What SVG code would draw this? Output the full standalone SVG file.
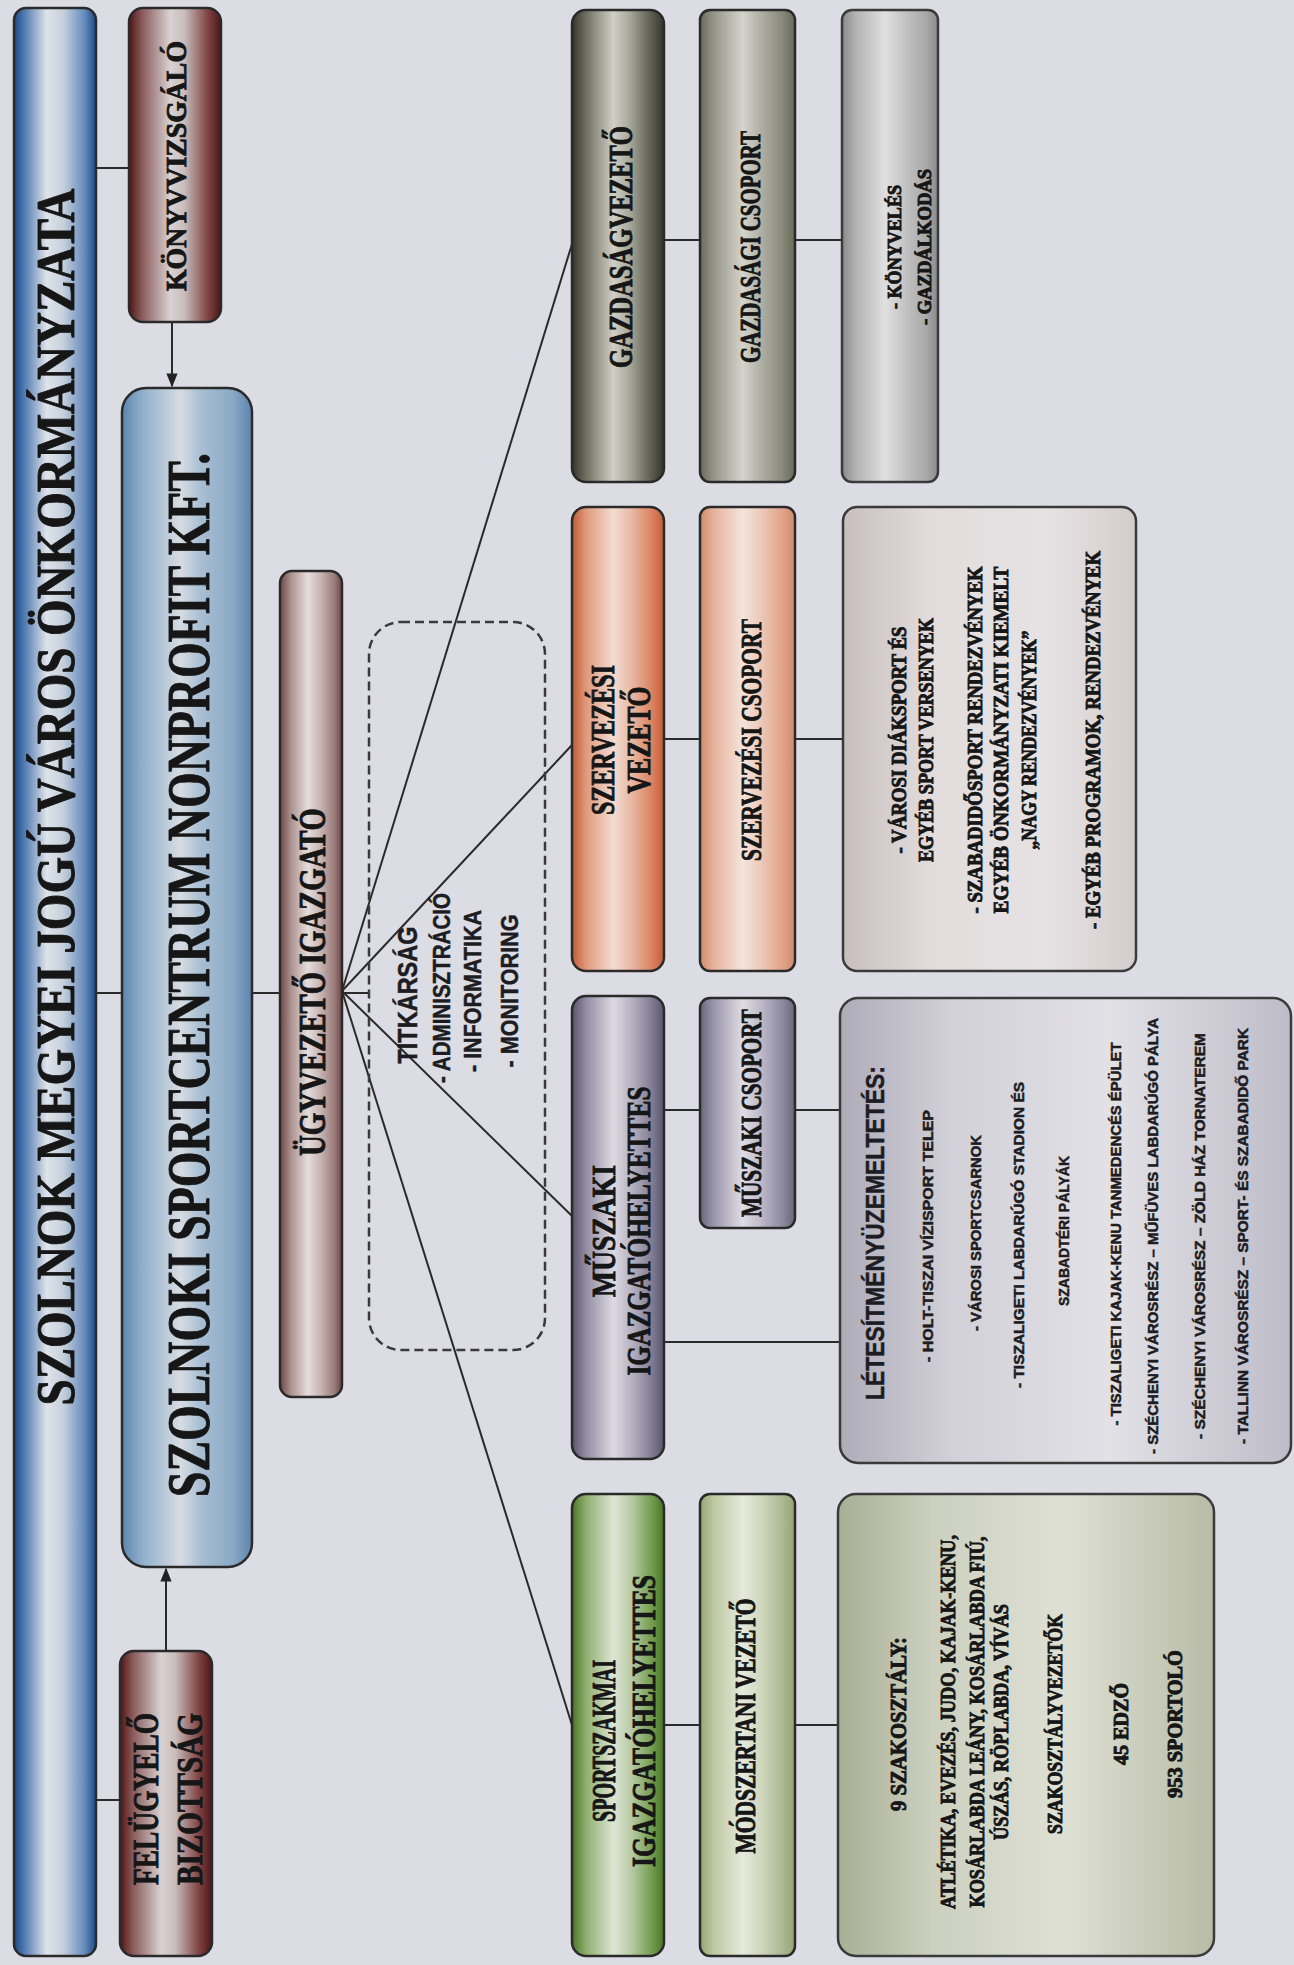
<svg xmlns="http://www.w3.org/2000/svg" width="1294" height="1965" viewBox="0 0 1294 1965">
<defs>
<linearGradient id="gBlue" x1="0" x2="1" y1="0" y2="0"><stop offset="0" stop-color="#1d4a88"/><stop offset="0.12" stop-color="#4d78b0"/><stop offset="0.4" stop-color="#dfe3ea"/><stop offset="0.6" stop-color="#c6d0dc"/><stop offset="0.85" stop-color="#6a8fbf"/><stop offset="1" stop-color="#1d4a88"/></linearGradient>
<linearGradient id="gKft" x1="0" x2="1" y1="0" y2="0"><stop offset="0" stop-color="#5d84ad"/><stop offset="0.15" stop-color="#8eaecb"/><stop offset="0.45" stop-color="#d7dce2"/><stop offset="0.6" stop-color="#a9bfd3"/><stop offset="0.85" stop-color="#8aa9c6"/><stop offset="1" stop-color="#5d84ad"/></linearGradient>
<linearGradient id="gMaroon" x1="0" x2="1" y1="0" y2="0"><stop offset="0" stop-color="#4e1515"/><stop offset="0.14" stop-color="#8a5a5a"/><stop offset="0.45" stop-color="#d8d2d2"/><stop offset="0.6" stop-color="#c9bdbd"/><stop offset="0.86" stop-color="#7e4242"/><stop offset="1" stop-color="#4e1515"/></linearGradient>
<linearGradient id="gUgy" x1="0" x2="1" y1="0" y2="0"><stop offset="0" stop-color="#6a4644"/><stop offset="0.18" stop-color="#ad9391"/><stop offset="0.45" stop-color="#e3dddc"/><stop offset="0.65" stop-color="#c9b5b3"/><stop offset="0.88" stop-color="#9a7b79"/><stop offset="1" stop-color="#6a4644"/></linearGradient>
<linearGradient id="gGazd" x1="0" x2="1" y1="0" y2="0"><stop offset="0" stop-color="#34342a"/><stop offset="0.15" stop-color="#6f6f60"/><stop offset="0.45" stop-color="#cfcfc6"/><stop offset="0.62" stop-color="#a9a99c"/><stop offset="0.86" stop-color="#5e5e50"/><stop offset="1" stop-color="#34342a"/></linearGradient>
<linearGradient id="gGazdC" x1="0" x2="1" y1="0" y2="0"><stop offset="0" stop-color="#6a6a5a"/><stop offset="0.15" stop-color="#96968a"/><stop offset="0.45" stop-color="#d4d4cc"/><stop offset="0.62" stop-color="#b3b3a8"/><stop offset="0.86" stop-color="#8a8a7c"/><stop offset="1" stop-color="#6a6a5a"/></linearGradient>
<linearGradient id="gGazdL" x1="0" x2="1" y1="0" y2="0"><stop offset="0" stop-color="#8a8a8a"/><stop offset="0.15" stop-color="#b4b4b4"/><stop offset="0.45" stop-color="#e0e0e0"/><stop offset="0.65" stop-color="#c4c4c4"/><stop offset="0.88" stop-color="#a8a8a8"/><stop offset="1" stop-color="#8a8a8a"/></linearGradient>
<linearGradient id="gSzerv" x1="0" x2="1" y1="0" y2="0"><stop offset="0" stop-color="#c25a34"/><stop offset="0.15" stop-color="#e0987a"/><stop offset="0.45" stop-color="#f2dcd2"/><stop offset="0.65" stop-color="#e8b8a2"/><stop offset="0.88" stop-color="#d9805e"/><stop offset="1" stop-color="#c25a34"/></linearGradient>
<linearGradient id="gSzervC" x1="0" x2="1" y1="0" y2="0"><stop offset="0" stop-color="#cf8a6c"/><stop offset="0.15" stop-color="#e6b49c"/><stop offset="0.45" stop-color="#f4e4dc"/><stop offset="0.65" stop-color="#ecc8b6"/><stop offset="0.88" stop-color="#e0a286"/><stop offset="1" stop-color="#cf8a6c"/></linearGradient>
<linearGradient id="gSzervL" x1="0" x2="1" y1="0" y2="0"><stop offset="0" stop-color="#c9bebe"/><stop offset="0.3" stop-color="#e2dcdc"/><stop offset="0.7" stop-color="#e6e2e4"/><stop offset="1" stop-color="#d4cccc"/></linearGradient>
<linearGradient id="gMusz" x1="0" x2="1" y1="0" y2="0"><stop offset="0" stop-color="#58546a"/><stop offset="0.15" stop-color="#918ca2"/><stop offset="0.45" stop-color="#dcdae2"/><stop offset="0.65" stop-color="#b6b2c2"/><stop offset="0.88" stop-color="#7e7990"/><stop offset="1" stop-color="#58546a"/></linearGradient>
<linearGradient id="gMuszC" x1="0" x2="1" y1="0" y2="0"><stop offset="0" stop-color="#68647a"/><stop offset="0.15" stop-color="#9c98ac"/><stop offset="0.45" stop-color="#dedce4"/><stop offset="0.65" stop-color="#bcb8c8"/><stop offset="0.88" stop-color="#8a869c"/><stop offset="1" stop-color="#68647a"/></linearGradient>
<linearGradient id="gMuszL" x1="0" x2="1" y1="0" y2="0"><stop offset="0" stop-color="#aeacb8"/><stop offset="0.25" stop-color="#d2d0d8"/><stop offset="0.6" stop-color="#e2e1e6"/><stop offset="1" stop-color="#bebcc8"/></linearGradient>
<linearGradient id="gSport" x1="0" x2="1" y1="0" y2="0"><stop offset="0" stop-color="#487626"/><stop offset="0.15" stop-color="#8eae6e"/><stop offset="0.45" stop-color="#dde5d4"/><stop offset="0.65" stop-color="#b7c9a4"/><stop offset="0.88" stop-color="#6f9a4a"/><stop offset="1" stop-color="#487626"/></linearGradient>
<linearGradient id="gModsz" x1="0" x2="1" y1="0" y2="0"><stop offset="0" stop-color="#96a474"/><stop offset="0.15" stop-color="#bec8a2"/><stop offset="0.45" stop-color="#e6e9dc"/><stop offset="0.65" stop-color="#cfd6bc"/><stop offset="0.88" stop-color="#aab690"/><stop offset="1" stop-color="#96a474"/></linearGradient>
<linearGradient id="gSportL" x1="0" x2="1" y1="0" y2="0"><stop offset="0" stop-color="#a9ae96"/><stop offset="0.25" stop-color="#ccd0bf"/><stop offset="0.6" stop-color="#dee0d4"/><stop offset="1" stop-color="#b8bca6"/></linearGradient>
<marker id="arr" viewBox="0 0 10 10" refX="9" refY="5" markerWidth="7" markerHeight="7" orient="auto-start-reverse"><path d="M0,1 L10,5 L0,9 z" fill="#222"/></marker>
</defs>
<style>
.box{stroke:#2a2a2a;stroke-width:2.5}
.lst{stroke:#3a3a3a;stroke-width:2.5}
.h{font-family:'Liberation Serif',serif;font-weight:bold;fill:#161616;stroke:#161616;stroke-width:0.9}
.s{font-family:'Liberation Sans',sans-serif;font-weight:bold;fill:#1c1c22;stroke:#1c1c22;stroke-width:0.5}
.ln{stroke:#2a2a2a;stroke-width:2;fill:none}
</style>
<rect width="1294" height="1965" fill="#dcdce4"/>

<g id="connectors">
<line class="ln" x1="96" y1="168" x2="129" y2="168"/>
<line class="ln" x1="96" y1="993" x2="122" y2="993"/>
<line class="ln" x1="252" y1="993" x2="280" y2="993"/>
<line class="ln" x1="96" y1="1800" x2="120" y2="1800"/>
<line class="ln" x1="172" y1="322" x2="172" y2="386" marker-end="url(#arr)"/>
<line class="ln" x1="166" y1="1651" x2="166" y2="1569" marker-end="url(#arr)"/>
<line class="ln" x1="342" y1="993" x2="369" y2="993"/>
<line class="ln" x1="342" y1="991" x2="572" y2="244"/>
<line class="ln" x1="342" y1="991" x2="572" y2="745"/>
<line class="ln" x1="342" y1="991" x2="572" y2="1216"/>
<line class="ln" x1="342" y1="991" x2="572" y2="1725"/>
<line class="ln" x1="664" y1="240" x2="700" y2="240"/>
<line class="ln" x1="795" y1="240" x2="842" y2="240"/>
<line class="ln" x1="664" y1="739" x2="700" y2="739"/>
<line class="ln" x1="795" y1="739" x2="843" y2="739"/>
<line class="ln" x1="664" y1="1110" x2="700" y2="1110"/>
<line class="ln" x1="795" y1="1110" x2="840" y2="1110"/>
<line class="ln" x1="664" y1="1342" x2="840" y2="1342"/>
<line class="ln" x1="664" y1="1725" x2="700" y2="1725"/>
<line class="ln" x1="795" y1="1725" x2="838" y2="1725"/>
</g>

<g id="onkormanyzat">
<rect class="box" x="14" y="8" width="82" height="1948" rx="12" fill="url(#gBlue)"/>
<text class="h" transform="translate(55,797) rotate(-90)" text-anchor="middle" dy="0.35em" font-size="54" textLength="1217" lengthAdjust="spacingAndGlyphs">SZOLNOK MEGYEI JOGÚ VÁROS ÖNKORMÁNYZATA</text>
</g>
<g id="konyvvizsgalo">
<rect class="box" x="129" y="8" width="92" height="314" rx="14" fill="url(#gMaroon)"/>
<text class="h" transform="translate(175,166) rotate(-90)" text-anchor="middle" dy="0.35em" font-size="30" textLength="250" lengthAdjust="spacingAndGlyphs">KÖNYVVIZSGÁLÓ</text>
</g>
<g id="kft">
<rect class="box" x="122" y="388" width="130" height="1179" rx="24" fill="url(#gKft)"/>
<text class="h" transform="translate(187,975) rotate(-90)" text-anchor="middle" dy="0.35em" font-size="62" textLength="1044" lengthAdjust="spacingAndGlyphs">SZOLNOKI SPORTCENTRUM NONPROFIT KFT.</text>
</g>
<g id="felugyelo">
<rect class="box" x="120" y="1651" width="92" height="305" rx="14" fill="url(#gMaroon)"/>
<text class="h" transform="translate(146,1799) rotate(-90)" text-anchor="middle" dy="0.35em" font-size="35" textLength="172" lengthAdjust="spacingAndGlyphs">FELÜGYELŐ</text>
<text class="h" transform="translate(190,1799) rotate(-90)" text-anchor="middle" dy="0.35em" font-size="35" textLength="172" lengthAdjust="spacingAndGlyphs">BIZOTTSÁG</text>
</g>
<g id="ugyvezeto">
<rect class="box" x="280" y="571" width="62" height="826" rx="12" fill="url(#gUgy)"/>
<text class="h" transform="translate(312,982) rotate(-90)" text-anchor="middle" dy="0.35em" font-size="38" textLength="348" lengthAdjust="spacingAndGlyphs">ÜGYVEZETŐ IGAZGATÓ</text>
</g>
<g id="titkarsag">
<rect x="369" y="622" width="176" height="728" rx="32" fill="none" stroke="#3a3a3a" stroke-width="2.5" stroke-dasharray="9 5"/>
<text class="s" transform="translate(408,995) rotate(-90)" text-anchor="middle" dy="0.35em" font-size="27" textLength="137" lengthAdjust="spacingAndGlyphs">TITKÁRSÁG</text>
<text class="s" transform="translate(442,988) rotate(-90)" text-anchor="middle" dy="0.35em" font-size="23" textLength="190" lengthAdjust="spacingAndGlyphs">- ADMINISZTRÁCIÓ</text>
<text class="s" transform="translate(473,991) rotate(-90)" text-anchor="middle" dy="0.35em" font-size="23" textLength="162" lengthAdjust="spacingAndGlyphs">- INFORMATIKA</text>
<text class="s" transform="translate(510,991) rotate(-90)" text-anchor="middle" dy="0.35em" font-size="23" textLength="153" lengthAdjust="spacingAndGlyphs">- MONITORING</text>
</g>

<g id="gazdasagvezeto">
<rect class="box" x="572" y="10" width="92" height="472" rx="14" fill="url(#gGazd)"/>
<text class="h" transform="translate(620,247) rotate(-90)" text-anchor="middle" dy="0.35em" font-size="33" textLength="242" lengthAdjust="spacingAndGlyphs">GAZDASÁGVEZETŐ</text>
</g>
<g id="gazdasagi-csoport">
<rect class="box" x="700" y="10" width="95" height="472" rx="10" fill="url(#gGazdC)"/>
<text class="h" transform="translate(750,247) rotate(-90)" text-anchor="middle" dy="0.35em" font-size="29" textLength="232" lengthAdjust="spacingAndGlyphs">GAZDASÁGI CSOPORT</text>
</g>
<g id="gazdasagi-feladatok">
<rect class="lst" x="842" y="10" width="96" height="472" rx="10" fill="url(#gGazdL)"/>
<text class="h" transform="translate(894,247) rotate(-90)" text-anchor="middle" dy="0.35em" font-size="19" textLength="124" lengthAdjust="spacingAndGlyphs">- KÖNYVELÉS</text>
<text class="h" transform="translate(924,247) rotate(-90)" text-anchor="middle" dy="0.35em" font-size="19" textLength="156" lengthAdjust="spacingAndGlyphs">- GAZDÁLKODÁS</text>
</g>

<g id="szervezesi-vezeto">
<rect class="box" x="572" y="507" width="92" height="464" rx="14" fill="url(#gSzerv)"/>
<text class="h" transform="translate(602,740) rotate(-90)" text-anchor="middle" dy="0.35em" font-size="33" textLength="150" lengthAdjust="spacingAndGlyphs">SZERVEZÉSI</text>
<text class="h" transform="translate(638,740) rotate(-90)" text-anchor="middle" dy="0.35em" font-size="33" textLength="107" lengthAdjust="spacingAndGlyphs">VEZETŐ</text>
</g>
<g id="szervezesi-csoport">
<rect class="box" x="700" y="507" width="95" height="464" rx="10" fill="url(#gSzervC)"/>
<text class="h" transform="translate(751,740) rotate(-90)" text-anchor="middle" dy="0.35em" font-size="29" textLength="242" lengthAdjust="spacingAndGlyphs">SZERVEZÉSI CSOPORT</text>
</g>
<g id="szervezesi-feladatok">
<rect class="lst" x="843" y="507" width="293" height="464" rx="14" fill="url(#gSzervL)"/>
<text class="h" transform="translate(899,740) rotate(-90)" text-anchor="middle" dy="0.35em" font-size="20" textLength="227" lengthAdjust="spacingAndGlyphs">- VÁROSI DIÁKSPORT ÉS</text>
<text class="h" transform="translate(926,740) rotate(-90)" text-anchor="middle" dy="0.35em" font-size="20" textLength="244" lengthAdjust="spacingAndGlyphs">EGYÉB SPORT VERSENYEK</text>
<text class="h" transform="translate(975,740) rotate(-90)" text-anchor="middle" dy="0.35em" font-size="20" textLength="347" lengthAdjust="spacingAndGlyphs">- SZABADIDŐSPORT RENDEZVÉNYEK</text>
<text class="h" transform="translate(1001,740) rotate(-90)" text-anchor="middle" dy="0.35em" font-size="20" textLength="347" lengthAdjust="spacingAndGlyphs">EGYÉB ÖNKORMÁNYZATI KIEMELT</text>
<text class="h" transform="translate(1029,740) rotate(-90)" text-anchor="middle" dy="0.35em" font-size="20" textLength="219" lengthAdjust="spacingAndGlyphs">„NAGY RENDEZVÉNYEK”</text>
<text class="h" transform="translate(1093,740) rotate(-90)" text-anchor="middle" dy="0.35em" font-size="20" textLength="378" lengthAdjust="spacingAndGlyphs">- EGYÉB PROGRAMOK, RENDEZVÉNYEK</text>
</g>

<g id="muszaki-igazgatohelyettes">
<rect class="box" x="572" y="996" width="92" height="463" rx="14" fill="url(#gMusz)"/>
<text class="h" transform="translate(603,1231) rotate(-90)" text-anchor="middle" dy="0.35em" font-size="34" textLength="132" lengthAdjust="spacingAndGlyphs">MŰSZAKI</text>
<text class="h" transform="translate(638,1231) rotate(-90)" text-anchor="middle" dy="0.35em" font-size="34" textLength="289" lengthAdjust="spacingAndGlyphs">IGAZGATÓHELYETTES</text>
</g>
<g id="muszaki-csoport">
<rect class="box" x="700" y="998" width="95" height="230" rx="10" fill="url(#gMuszC)"/>
<text class="h" transform="translate(750,1113) rotate(-90)" text-anchor="middle" dy="0.35em" font-size="30" textLength="208" lengthAdjust="spacingAndGlyphs">MŰSZAKI CSOPORT</text>
</g>
<g id="muszaki-feladatok">
<rect class="lst" x="840" y="998" width="451" height="465" rx="18" fill="url(#gMuszL)"/>
<text class="s" transform="translate(875,1233) rotate(-90)" text-anchor="middle" dy="0.35em" font-size="26" textLength="334" lengthAdjust="spacingAndGlyphs">LÉTESÍTMÉNYÜZEMELTETÉS:</text>
<text class="s" transform="translate(928,1236) rotate(-90)" text-anchor="middle" dy="0.35em" font-size="15" textLength="252" lengthAdjust="spacingAndGlyphs">- HOLT-TISZAI VÍZISPORT TELEP</text>
<text class="s" transform="translate(976,1233) rotate(-90)" text-anchor="middle" dy="0.35em" font-size="15" textLength="196" lengthAdjust="spacingAndGlyphs">- VÁROSI SPORTCSARNOK</text>
<text class="s" transform="translate(1019,1235) rotate(-90)" text-anchor="middle" dy="0.35em" font-size="15" textLength="306" lengthAdjust="spacingAndGlyphs">- TISZALIGETI LABDARÚGÓ STADION ÉS</text>
<text class="s" transform="translate(1064,1231) rotate(-90)" text-anchor="middle" dy="0.35em" font-size="15" textLength="150" lengthAdjust="spacingAndGlyphs">SZABADTÉRI PÁLYÁK</text>
<text class="s" transform="translate(1116,1234) rotate(-90)" text-anchor="middle" dy="0.35em" font-size="15" textLength="383" lengthAdjust="spacingAndGlyphs">- TISZALIGETI KAJAK-KENU TANMEDENCÉS ÉPÜLET</text>
<text class="s" transform="translate(1153,1236) rotate(-90)" text-anchor="middle" dy="0.35em" font-size="15" textLength="436" lengthAdjust="spacingAndGlyphs">- SZÉCHENYI VÁROSRÉSZ – MŰFÜVES LABDARÚGÓ PÁLYA</text>
<text class="s" transform="translate(1200,1236) rotate(-90)" text-anchor="middle" dy="0.35em" font-size="15" textLength="406" lengthAdjust="spacingAndGlyphs">- SZÉCHENYI VÁROSRÉSZ – ZÖLD HÁZ TORNATEREM</text>
<text class="s" transform="translate(1243,1236) rotate(-90)" text-anchor="middle" dy="0.35em" font-size="15" textLength="416" lengthAdjust="spacingAndGlyphs">- TALLINN VÁROSRÉSZ – SPORT- ÉS SZABADIDŐ PARK</text>
</g>

<g id="sportszakmai-igazgatohelyettes">
<rect class="box" x="572" y="1494" width="92" height="462" rx="14" fill="url(#gSport)"/>
<text class="h" transform="translate(603,1741) rotate(-90)" text-anchor="middle" dy="0.35em" font-size="34" textLength="162" lengthAdjust="spacingAndGlyphs">SPORTSZAKMAI</text>
<text class="h" transform="translate(643,1721) rotate(-90)" text-anchor="middle" dy="0.35em" font-size="34" textLength="292" lengthAdjust="spacingAndGlyphs">IGAZGATÓHELYETTES</text>
</g>
<g id="modszertani-vezeto">
<rect class="box" x="700" y="1494" width="95" height="462" rx="10" fill="url(#gModsz)"/>
<text class="h" transform="translate(745,1726) rotate(-90)" text-anchor="middle" dy="0.35em" font-size="29" textLength="255" lengthAdjust="spacingAndGlyphs">MÓDSZERTANI VEZETŐ</text>
</g>
<g id="sport-feladatok">
<rect class="lst" x="838" y="1494" width="376" height="462" rx="18" fill="url(#gSportL)"/>
<text class="h" transform="translate(898,1724) rotate(-90)" text-anchor="middle" dy="0.35em" font-size="23" textLength="174" lengthAdjust="spacingAndGlyphs">9 SZAKOSZTÁLY:</text>
<text class="h" transform="translate(948,1722) rotate(-90)" text-anchor="middle" dy="0.35em" font-size="20" textLength="374" lengthAdjust="spacingAndGlyphs">ATLÉTIKA, EVEZÉS, JUDO, KAJAK-KENU,</text>
<text class="h" transform="translate(977,1722) rotate(-90)" text-anchor="middle" dy="0.35em" font-size="20" textLength="371" lengthAdjust="spacingAndGlyphs">KOSÁRLABDA LEÁNY, KOSÁRLABDA FIÚ,</text>
<text class="h" transform="translate(1001,1722) rotate(-90)" text-anchor="middle" dy="0.35em" font-size="20" textLength="236" lengthAdjust="spacingAndGlyphs">ÚSZÁS, RÖPLABDA, VÍVÁS</text>
<text class="h" transform="translate(1055,1724) rotate(-90)" text-anchor="middle" dy="0.35em" font-size="20" textLength="220" lengthAdjust="spacingAndGlyphs">SZAKOSZTÁLYVEZETŐK</text>
<text class="h" transform="translate(1121,1724) rotate(-90)" text-anchor="middle" dy="0.35em" font-size="20" textLength="82" lengthAdjust="spacingAndGlyphs">45 EDZŐ</text>
<text class="h" transform="translate(1175,1724) rotate(-90)" text-anchor="middle" dy="0.35em" font-size="20" textLength="148" lengthAdjust="spacingAndGlyphs">953 SPORTOLÓ</text>
</g>
</svg>
